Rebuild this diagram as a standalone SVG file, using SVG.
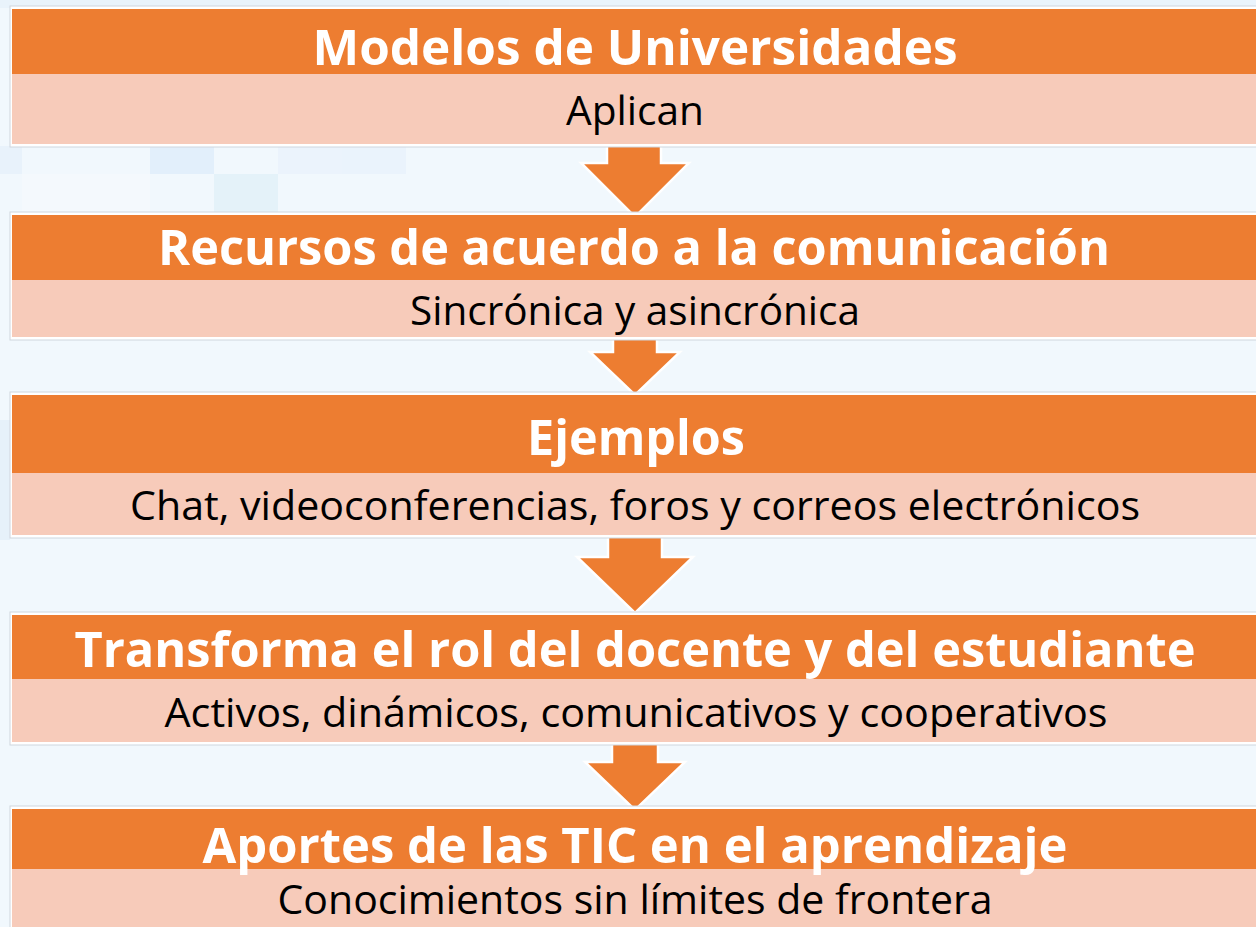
<svg xmlns="http://www.w3.org/2000/svg" width="1256" height="927" viewBox="0 0 1256 927">
<style>
.frame{fill:#ffffff;stroke:#cfd6de;stroke-width:1}
.head{fill:#ED7D31}
.body{fill:#F7CBBA}
.t{font-family:"Open Sans","Noto Sans",sans-serif;font-weight:700;font-size:49px;fill:#ffffff;text-anchor:middle}
.s{font-family:"Open Sans","Noto Sans",sans-serif;font-weight:400;font-size:40px;fill:#000000;text-anchor:middle}
.arrow{fill:#ED7D31;stroke:#ffffff;stroke-width:2.5;stroke-linejoin:miter}
</style>
<rect x="0" y="0" width="1256" height="927" fill="#f1f8fd"/>
<g id="bg-tiles" opacity="0.8">
<rect x="0" y="0" width="1256" height="8" fill="#e8f2fb"/>
<rect x="150" y="146" width="64" height="28" fill="#dfedfb"/>
<rect x="214" y="174" width="64" height="40" fill="#e1f1f9"/>
<rect x="0" y="146" width="22" height="28" fill="#e6f1fb"/>
<rect x="278" y="146" width="64" height="28" fill="#eaf3fc"/>
<rect x="342" y="146" width="64" height="28" fill="#e9f3fc"/>
<rect x="22" y="174" width="128" height="40" fill="#f5fafe"/>
<rect x="0" y="420" width="10" height="120" fill="#e4eff9"/>
</g>
<g id="connectors">
<polygon class="arrow" points="607,143 661,143 661,163 689,163 635,217 581,163 607,163"/>
<polygon class="arrow" points="613,336 657,336 657,352 680,352 635,395 590,352 613,352"/>
<polygon class="arrow" points="608,534 662,534 662,557 693,557 635,613 577,557 608,557"/>
<polygon class="arrow" points="612,741 658,741 658,762 685,762 635,810 585,762 612,762"/>
</g>
<g id="node1">
<rect class="frame" x="10" y="6" width="1250" height="141"/>
<rect class="head" x="12" y="9" width="1248" height="65"/>
<rect class="body" x="12" y="74" width="1248" height="70"/>
<text class="t" x="635" y="65" textLength="645" lengthAdjust="spacingAndGlyphs">Modelos de Universidades</text>
<text class="s" x="635" y="125" textLength="138" lengthAdjust="spacingAndGlyphs">Aplican</text>
</g>
<g id="node2">
<rect class="frame" x="10" y="212" width="1250" height="128"/>
<rect class="head" x="12" y="215" width="1248" height="65"/>
<rect class="body" x="12" y="280" width="1248" height="57"/>
<text class="t" x="634" y="265" textLength="952" lengthAdjust="spacingAndGlyphs">Recursos de acuerdo a la comunicación</text>
<text class="s" x="635" y="325" textLength="450" lengthAdjust="spacingAndGlyphs">Sincrónica y asincrónica</text>
</g>
<g id="node3">
<rect class="frame" x="10" y="392" width="1250" height="146"/>
<rect class="head" x="12" y="395" width="1248" height="78"/>
<rect class="body" x="12" y="473" width="1248" height="62"/>
<text class="t" x="636" y="455" textLength="218" lengthAdjust="spacingAndGlyphs">Ejemplos</text>
<text class="s" x="635" y="520" textLength="1010" lengthAdjust="spacingAndGlyphs">Chat, videoconferencias, foros y correos electrónicos</text>
</g>
<g id="node4">
<rect class="frame" x="10" y="612" width="1250" height="133"/>
<rect class="head" x="12" y="615" width="1248" height="64"/>
<rect class="body" x="12" y="679" width="1248" height="63"/>
<text class="t" x="635" y="667" textLength="1121" lengthAdjust="spacingAndGlyphs">Transforma el rol del docente y del estudiante</text>
<text class="s" x="636" y="727" textLength="943" lengthAdjust="spacingAndGlyphs">Activos, dinámicos, comunicativos y cooperativos</text>
</g>
<g id="node5">
<rect class="frame" x="10" y="806" width="1250" height="130"/>
<rect class="head" x="12" y="809" width="1248" height="60"/>
<rect class="body" x="12" y="869" width="1248" height="70"/>
<text class="t" x="635" y="863" textLength="865" lengthAdjust="spacingAndGlyphs">Aportes de las TIC en el aprendizaje</text>
<text class="s" x="635" y="914" font-size="38" textLength="715" lengthAdjust="spacingAndGlyphs">Conocimientos sin límites de frontera</text>
</g>
</svg>
